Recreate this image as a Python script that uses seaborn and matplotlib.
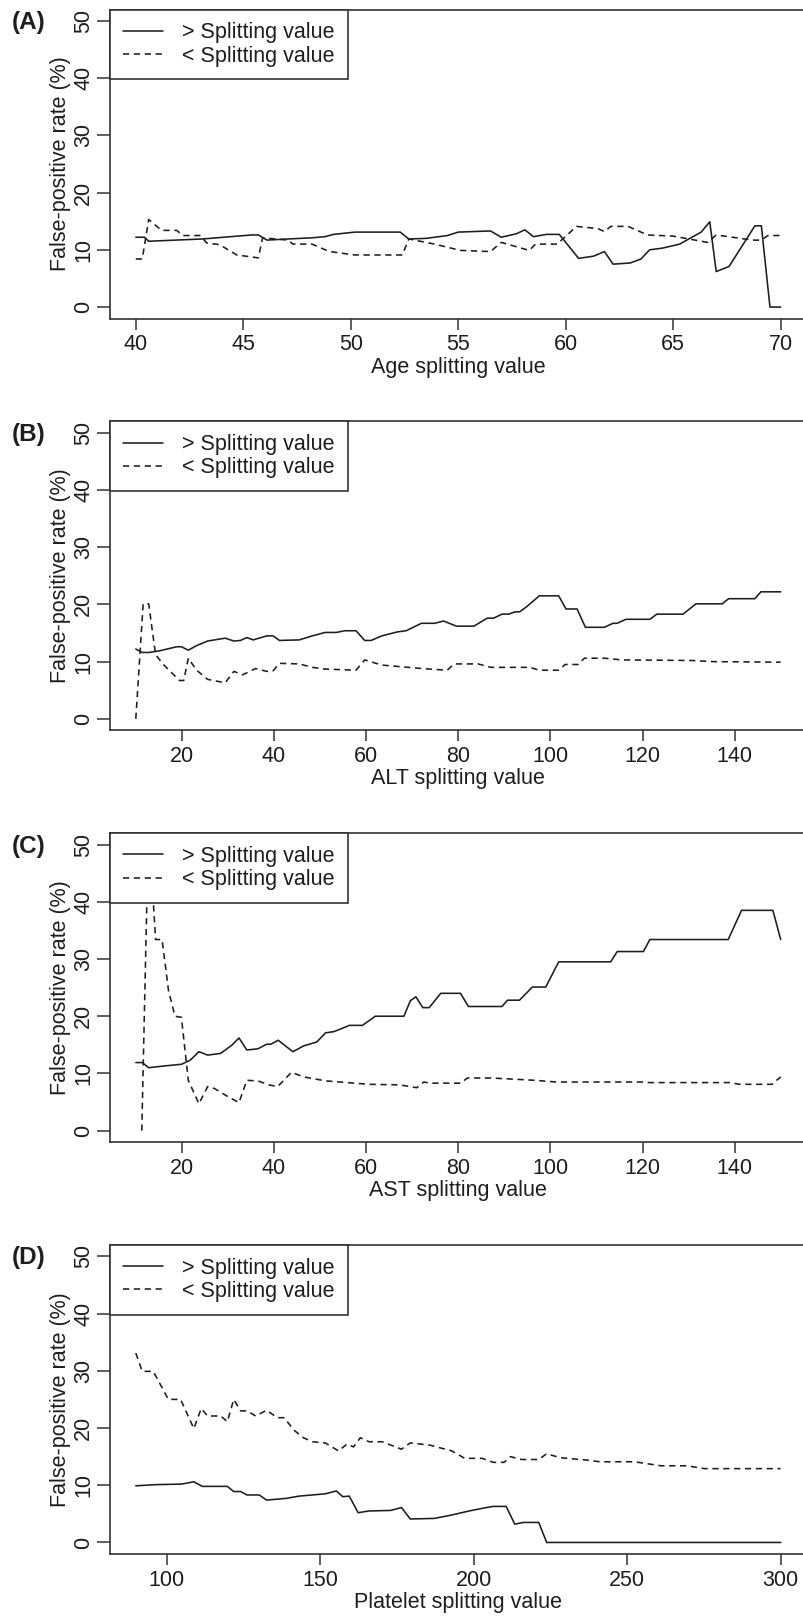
"""
plot.py
Tasa de falsos positivos según el valor de corte (Edad, ALT, AST, Plaquetas).
"""

import matplotlib
matplotlib.use('Agg')
import matplotlib.pyplot as plt
import seaborn as sns

# ──────────────────────────────────────────────────────────────────────────────
# DATOS
# ──────────────────────────────────────────────────────────────────────────────
# (A) Edad
age_x_gt = [40, 40.4, 40.6, 43.1, 45.4, 45.7, 46.1, 47.1, 48.2, 48.8, 49.2, 50.2,
            52.3, 52.7, 53.5, 54.5, 55.0, 56.5, 57.0, 57.7, 58.1, 58.5, 59.1, 59.7,
            60.6, 61.3, 61.8, 62.2, 63.0, 63.5, 63.9, 64.5, 65.3, 66.3, 66.7, 67.0,
            67.6, 68.8, 69.1, 69.5, 70]
age_y_gt = [12.2, 12.2, 11.5, 11.9, 12.6, 12.6, 11.7, 11.9, 12.1, 12.3, 12.7, 13.1,
            13.1, 11.9, 12.0, 12.5, 13.1, 13.3, 12.2, 12.8, 13.5, 12.3, 12.7, 12.7,
            8.5, 8.9, 9.7, 7.5, 7.7, 8.4, 10.0, 10.3, 11.0, 13.1, 14.9, 6.2,
            7.1, 14.2, 14.2, 0, 0]
age_x_lt = [40, 40.3, 40.6, 41.2, 41.9, 42.2, 43.0, 43.3, 43.9, 44.7, 45.7, 45.9,
            47.1, 47.3, 48.2, 49.0, 50.2, 52.4, 52.7, 53.9, 55.1, 56.5, 57.0, 58.3,
            58.6, 59.6, 60.5, 61.5, 61.8, 62.1, 62.9, 63.8, 65.0, 66.6, 67.0, 68.7,
            69.1, 69.4, 70]
age_y_lt = [8.4, 8.4, 15.3, 13.4, 13.4, 12.5, 12.5, 11.2, 10.9, 9.1, 8.6, 12.1,
            11.7, 11.0, 11.0, 9.7, 9.1, 9.1, 11.9, 11.0, 9.9, 9.7, 11.3, 9.9,
            11.0, 11.0, 14.1, 13.7, 13.2, 14.1, 14.1, 12.6, 12.4, 11.3, 12.6, 11.7,
            11.7, 12.5, 12.5]

# (B) ALT
alt_x_gt = [10, 11.4, 12.8, 15.2, 18.9, 19.9, 21.4, 23.2, 25.6, 29.4, 31.3, 32.7,
            34.1, 35.5, 38.4, 39.8, 41.2, 45.5, 48.3, 51.1, 53.5, 55.4, 57.8, 59.7,
            61.1, 63.4, 66.8, 68.7, 72.0, 74.9, 76.8, 79.6, 83.4, 86.3, 87.7, 89.5,
            91.0, 92.3, 93.3, 94.7, 97.6, 101.8, 103.4, 105.8, 107.6, 111.7, 113.6,
            114.5, 116.4, 121.6, 123.1, 128.8, 131.6, 137.3, 138.7, 144.4, 145.7, 150]
alt_y_gt = [12.2, 11.6, 11.6, 11.9, 12.6, 12.6, 12.0, 12.8, 13.6, 14.1, 13.6, 13.7,
            14.2, 13.8, 14.5, 14.5, 13.7, 13.8, 14.5, 15.1, 15.1, 15.4, 15.4, 13.7,
            13.7, 14.5, 15.2, 15.4, 16.7, 16.7, 17.1, 16.2, 16.2, 17.6, 17.6, 18.3,
            18.3, 18.7, 18.7, 19.5, 21.5, 21.5, 19.2, 19.2, 16.0, 16.0, 16.7,
            16.7, 17.4, 17.4, 18.3, 18.3, 20.1, 20.1, 21.0, 21.0, 22.2, 22.2]
alt_x_lt = [10, 11.6, 12.8, 14.3, 16.1, 19.5, 20.4, 21.4, 23.2, 25.6, 29.4, 31.3,
            33.2, 36.0, 38.4, 39.8, 41.2, 45.5, 48.3, 51.1, 57.8, 59.7, 63.4, 72.0,
            77.6, 79.1, 84.3, 87.1, 95.6, 97.5, 101.8, 103.2, 106.0, 107.4, 111.7,
            115.5, 130.6, 135.4, 150]
alt_y_lt = [0, 20.1, 20.1, 11.2, 9.4, 6.7, 6.7, 10.6, 8.5, 6.9, 6.3, 8.3,
            7.7, 8.8, 8.3, 8.4, 9.7, 9.6, 9.0, 8.7, 8.5, 10.3, 9.4, 8.8,
            8.5, 9.6, 9.6, 9.0, 9.0, 8.5, 8.5, 9.5, 9.5, 10.6, 10.6,
            10.3, 10.2, 10.0, 9.9]

# (C) AST
ast_x_gt = [10, 11.4, 12.8, 16.1, 19.9, 21.8, 23.7, 25.6, 28.4, 30.8, 32.4, 34.1,
            36.5, 38.4, 39.3, 40.9, 44.1, 46.4, 49.3, 51.2, 53.0, 56.4, 59.2, 62.0,
            68.2, 69.6, 70.8, 72.3, 73.7, 76.2, 80.5, 82.2, 89.5, 90.7, 93.3, 96.1,
            99.0, 101.8, 113.1, 114.5, 120.2, 121.6, 138.6, 141.5, 148.3, 150]
ast_y_gt = [11.9, 11.9, 11.0, 11.3, 11.6, 12.3, 13.8, 13.2, 13.5, 14.9, 16.2, 14.1,
            14.3, 15.1, 15.1, 15.8, 13.8, 14.8, 15.5, 17.1, 17.3, 18.4, 18.4, 20.0,
            20.0, 22.7, 23.4, 21.5, 21.5, 24.0, 24.0, 21.7, 21.7, 22.8, 22.8, 25.1,
            25.1, 29.5, 29.5, 31.3, 31.3, 33.4, 33.4, 38.5, 38.5, 33.4]
ast_x_lt = [11.3, 12.4, 13.8, 14.3, 15.7, 17.1, 18.5, 19.9, 21.4, 23.7, 25.6, 27.0,
            30.3, 32.4, 34.1, 36.5, 38.9, 40.8, 43.8, 46.4, 51.2, 55.9, 60.6, 67.3,
            71.0, 72.5, 73.9, 80.5, 82.0, 87.2, 96.6, 101.3, 120.2, 121.6, 139.1,
            141.0, 148.1, 150]
ast_y_lt = [0, 40.0, 40.0, 33.4, 33.4, 24.5, 20.0, 19.8, 8.8, 4.7, 7.7, 7.4,
            5.8, 4.9, 8.8, 8.7, 8.0, 7.7, 10.2, 9.4, 8.7, 8.4, 8.1, 8.0,
            7.5, 8.5, 8.3, 8.3, 9.2, 9.2, 8.8, 8.5, 8.5, 8.4, 8.4,
            8.1, 8.1, 9.4]

# (D) Plaquetas
plt_x_gt = [90, 96.4, 104.9, 108.9, 111.7, 119.8, 121.9, 124.1, 126.2, 130.2, 132.6,
            138.9, 143.2, 151.7, 155.3, 157.4, 159.5, 162.4, 165.9, 173.0, 176.5,
            179.4, 187.2, 192.9, 198.5, 204.2, 206.4, 210.6, 213.4, 216.3, 221.2,
            223.8, 300]
plt_y_gt = [9.9, 10.1, 10.2, 10.6, 9.8, 9.8, 8.9, 8.9, 8.3, 8.3, 7.4,
            7.7, 8.1, 8.5, 9.0, 8.0, 8.1, 5.2, 5.5, 5.6, 6.1,
            4.1, 4.2, 4.8, 5.5, 6.1, 6.3, 6.3, 3.2, 3.5, 3.5,
            0, 0]
plt_x_lt = [90, 92.1, 95.7, 100.6, 104.6, 108.9, 111.3, 113.4, 117.7, 119.8, 121.9,
            124.1, 126.2, 129.0, 132.6, 136.1, 138.2, 141.8, 144.6, 147.5, 151.7,
            156.0, 158.8, 160.9, 163.1, 165.9, 170.2, 176.5, 179.4, 185.8, 192.9,
            197.1, 202.8, 206.4, 209.9, 212.0, 215.6, 221.2, 223.8, 228.3, 236.8,
            241.1, 252.4, 261.0, 269.5, 275.2, 300]
plt_y_lt = [33.1, 29.9, 29.9, 25.0, 25.0, 19.9, 23.4, 22.1, 22.1, 21.1, 25.0,
            23.0, 23.0, 22.1, 23.1, 21.8, 21.8, 19.5, 18.3, 17.6, 17.4,
            16.0, 17.2, 16.7, 18.3, 17.6, 17.6, 16.3, 17.4, 17.0, 16.0,
            14.7, 14.7, 14.0, 14.0, 15.0, 14.5, 14.5, 15.5, 14.8, 14.4,
            14.1, 14.1, 13.4, 13.4, 12.9, 12.9]

panel_tags   = ['(A)', '(B)', '(C)', '(D)']
panel_xlabel = ['Age splitting value', 'ALT splitting value',
                'AST splitting value', 'Platelet splitting value']
panel_xticks = [[40, 45, 50, 55, 60, 65, 70],
                [20, 40, 60, 80, 100, 120, 140],
                [20, 40, 60, 80, 100, 120, 140],
                [100, 150, 200, 250, 300]]
panel_xrange = [(40, 70), (10, 150), (10, 150), (90, 300)]
y_ticks      = [0, 10, 20, 30, 40, 50]
legend_txt   = ['> Splitting value', '< Splitting value']

series = [
    ((age_x_gt, age_y_gt), (age_x_lt, age_y_lt)),
    ((alt_x_gt, alt_y_gt), (alt_x_lt, alt_y_lt)),
    ((ast_x_gt, ast_y_gt), (ast_x_lt, ast_y_lt)),
    ((plt_x_gt, plt_y_gt), (plt_x_lt, plt_y_lt)),
]

# ──────────────────────────────────────────────────────────────────────────────
# ESTILO
# ──────────────────────────────────────────────────────────────────────────────
sns.set_theme(style='white')
plt.rcParams['font.family'] = ['Liberation Sans', 'DejaVu Sans']
INK   = '#1e1e1e'
FRAME = '#333333'
FS    = 15.5

W, H = 804, 1618
fig = plt.figure(figsize=(W / 100, H / 100), dpi=100)
fig.patch.set_facecolor('white')

AX_LEFT, AX_RIGHT, AX_H = 110, 806.5, 309
tops = [9.5 + i * 411.8 for i in range(4)]


def r_limits(lo, hi):
    """Rango con la extensión del 4 % que usa R por defecto."""
    d = (hi - lo) * 0.04
    return lo - d, hi + d


for i, top in enumerate(tops):
    ax = fig.add_axes([AX_LEFT / W, 1 - (top + AX_H) / H,
                       (AX_RIGHT - AX_LEFT) / W, AX_H / H])
    (xg, yg), (xl, yl) = series[i]

    sns.lineplot(x=xg, y=yg, ax=ax, color=INK, lw=1.15, estimator=None,
                 sort=False, label=legend_txt[0])
    sns.lineplot(x=xl, y=yl, ax=ax, color=INK, lw=1.15, estimator=None,
                 sort=False, label=legend_txt[1], linestyle=(0, (3.9, 2.9)))

    ax.set_xlim(*r_limits(*panel_xrange[i]))
    ax.set_ylim(*r_limits(0, 50))
    ax.set_xticks(panel_xticks[i])
    ax.set_yticks(y_ticks)

    for s in ax.spines.values():
        s.set_color(FRAME)
        s.set_linewidth(1.2)

    ax.tick_params(axis='x', direction='out', length=7.7, width=1.1,
                   color=FRAME, pad=3.6, labelsize=FS, labelcolor=INK,
                   bottom=True)
    ax.tick_params(axis='y', direction='out', length=9.5, width=1.1,
                   color=FRAME, pad=2, labelsize=FS, labelcolor=INK,
                   left=True, labelrotation=90)
    for t in ax.get_yticklabels():
        t.set_va('center')

    ax.set_xlabel(panel_xlabel[i], fontsize=FS, color=INK)
    ax.xaxis.set_label_coords(0.5, -0.123)
    ax.set_ylabel('False-positive rate (%)', fontsize=FS, color=INK)
    ax.yaxis.set_label_coords(-0.056, 0.5)

    handles, labels = ax.get_legend_handles_labels()
    leg = ax.legend(handles, labels, loc='upper left', bbox_to_anchor=(0, 1),
                    borderaxespad=0, fancybox=False, framealpha=1,
                    facecolor='white', edgecolor=FRAME, fontsize=FS,
                    handlelength=1.85, handletextpad=0.9, borderpad=0.6,
                    labelspacing=0.1)
    leg.get_frame().set_linewidth(1.2)
    leg.set_zorder(5)
    for t in leg.get_texts():
        t.set_color(INK)

    fig.text(12 / W, 1 - (top + 13) / H, panel_tags[i], fontsize=17.5,
             fontweight='bold', color=INK, ha='left', va='center')

fig.savefig('out.png', dpi=100, facecolor='white')
